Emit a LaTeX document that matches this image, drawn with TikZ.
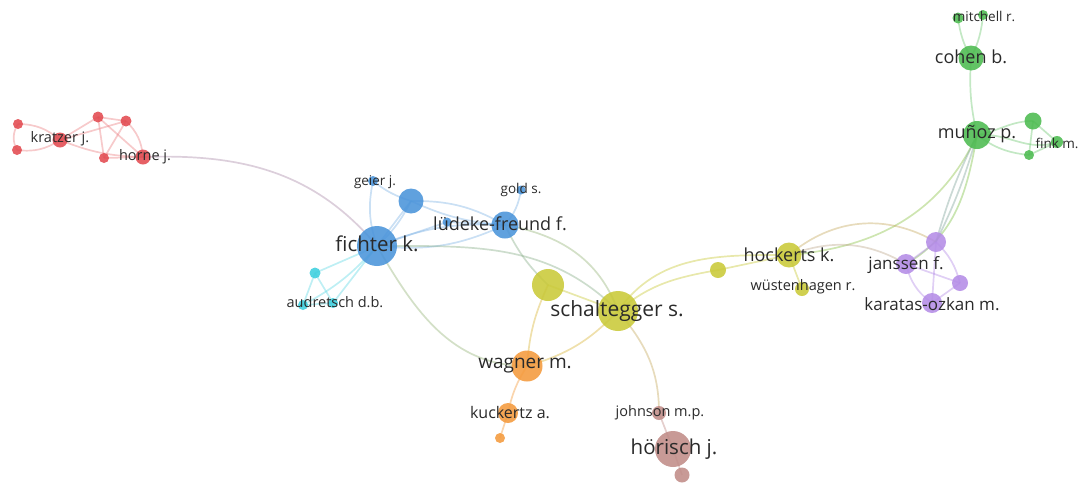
\documentclass[tikz,border=0pt]{standalone}
\usepackage{fontspec}
\setmainfont{Open Sans}
\usetikzlibrary{backgrounds}
\definecolor{cred}{HTML}{E24A50}
\definecolor{cblue}{HTML}{4A94DA}
\definecolor{ccyan}{HTML}{3CCFDE}
\definecolor{cyel}{HTML}{C9C938}
\definecolor{corange}{HTML}{F49A3C}
\definecolor{cbrown}{HTML}{C08C88}
\definecolor{cpurple}{HTML}{B48CE6}
\definecolor{cgreen}{HTML}{4CBB50}
\definecolor{txt}{HTML}{2A2A2A}
\begin{document}
\begin{tikzpicture}[x=1pt,y=-1pt,
  dot/.style={circle,inner sep=0pt,minimum size=#1,fill opacity=0.88},
  lab/.style={text=txt,inner sep=0pt,font=\fontsize{#1}{#1}\selectfont},
  ed/.style={line width=1.7pt,draw opacity=0.42}]
\useasboundingbox (0,0) rectangle (1083,483);
% ---- nodes ----
\node[dot=10,fill=cred] (r1) at (18,124) {};
\node[dot=10,fill=cred] (r2) at (17,150) {};
\node[dot=15,fill=cred] (kr) at (60,140) {};
\node[dot=11,fill=cred] (r3) at (98,117) {};
\node[dot=11,fill=cred] (r4) at (126,121) {};
\node[dot=10,fill=cred] (r5) at (104,158) {};
\node[dot=15,fill=cred] (ho) at (143,157) {};
\node[dot=40,fill=cblue] (fi) at (377,246) {};
\node[dot=10,fill=cblue] (ge) at (373,181) {};
\node[dot=25,fill=cblue] (b2) at (411,201) {};
\node[dot=9,fill=cblue] (sb) at (447,222) {};
\node[dot=27,fill=cblue] (lu) at (505,225) {};
\node[dot=9,fill=cblue] (go) at (521,190) {};
\node[dot=11,fill=ccyan] (c1) at (315,273) {};
\node[dot=10,fill=ccyan] (c2) at (303,305) {};
\node[dot=10,fill=ccyan] (c3) at (333,303) {};
\node[dot=32,fill=cyel] (y1) at (548,285) {};
\node[dot=40,fill=cyel] (sc) at (618,311) {};
\node[dot=16,fill=cyel] (y2) at (718,270) {};
\node[dot=25,fill=cyel] (hk) at (789,255) {};
\node[dot=14,fill=cyel] (wu) at (802,289) {};
\node[dot=31,fill=corange] (wa) at (527,366) {};
\node[dot=20,fill=corange] (ku) at (508,413) {};
\node[dot=10,fill=corange] (o3) at (500,438) {};
\node[dot=14,fill=cbrown] (jo) at (659,413) {};
\node[dot=36,fill=cbrown] (hr) at (673,449) {};
\node[dot=15,fill=cbrown] (b3) at (682,475) {};
\node[dot=20,fill=cpurple] (p1) at (936,242) {};
\node[dot=20,fill=cpurple] (ja) at (906,264) {};
\node[dot=16,fill=cpurple] (p3) at (960,283) {};
\node[dot=20,fill=cpurple] (ka) at (932,303) {};
\node[dot=11,fill=cgreen] (g1) at (958,18) {};
\node[dot=10,fill=cgreen] (mi) at (983,15) {};
\node[dot=25,fill=cgreen] (co) at (971,58) {};
\node[dot=28,fill=cgreen] (mu) at (977,135) {};
\node[dot=17,fill=cgreen] (g4) at (1033,121) {};
\node[dot=12,fill=cgreen] (fk) at (1057,142) {};
\node[dot=10,fill=cgreen] (g6) at (1029,155) {};
% ---- edges ----
\begin{scope}[on background layer]
\begin{scope}[ed,draw=cred!70]
\draw (r1.center) to[bend left=20] (kr.center);
\draw (r2.center) to[bend right=20] (kr.center);
\draw (r1.center) to[bend right=30] (r2.center);
\draw (kr.center) -- (r3.center);
\draw (kr.center) -- (r4.center);
\draw (kr.center) to[bend right=10] (ho.center);
\draw (r3.center) -- (r4.center);
\draw (r3.center) -- (ho.center);
\draw (r3.center) -- (r5.center);
\draw (r4.center) -- (r5.center);
\draw (r4.center) to[bend left=20] (ho.center);
\draw (r5.center) -- (ho.center);
\end{scope}
\draw[ed,draw=cred!50!cblue!80] (ho.center) to[out=2,in=130] (fi.center);
\begin{scope}[ed,draw=cblue!70]
\draw (fi.center) to[bend left=15] (ge.center);
\draw (fi.center) -- (b2.center);
\draw (fi.center) to[bend right=10] (b2.center);
\draw (ge.center) to[bend right=10] (b2.center);
\draw (b2.center) to[bend left=15] (lu.center);
\draw (b2.center) to[bend right=10] (lu.center);
\draw (fi.center) to[bend left=12] (lu.center);
\draw (fi.center) to[bend right=15] (lu.center);
\draw (fi.center) -- (sb.center);
\draw (sb.center) -- (lu.center);
\draw (lu.center) to[bend right=15] (go.center);
\end{scope}
\begin{scope}[ed,draw=ccyan!80]
\draw (fi.center) -- (c1.center);
\draw (fi.center) to[bend left=10] (c2.center);
\draw (fi.center) -- (c3.center);
\draw (c1.center) -- (c2.center);
\draw (c1.center) -- (c3.center);
\draw (c2.center) -- (c3.center);
\end{scope}
\draw[ed,draw=cblue!50!cyel] (fi.center) to[out=0,in=135] (sc.center);
\draw[ed,draw=cblue!40!cyel] (lu.center) to[out=-10,in=110] (sc.center);
\draw[ed,draw=cblue!50!cyel] (lu.center) to[bend right=10] (y1.center);
\draw[ed,draw=cblue!40!cyel] (fi.center) to[out=-60,in=180] (wa.center);
\begin{scope}[ed,draw=cyel]
\draw (y1.center) -- (sc.center);
\draw (sc.center) to[out=40,in=190] (y2.center);
\draw (y2.center) -- (hk.center);
\draw (sc.center) to[out=55,in=180] (hk.center);
\draw (hk.center) -- (wu.center);
\end{scope}
\draw[ed,draw=cyel!60!corange] (y1.center) to[bend right=10] (wa.center);
\draw[ed,draw=cyel!60!corange] (sc.center) to[bend left=15] (wa.center);
\draw[ed,draw=cyel!50!cgreen] (hk.center) to[out=5,in=-115] (mu.center);
\draw[ed,draw=cyel!50!cbrown] (hk.center) to[out=40,in=150] (p1.center);
\draw[ed,draw=cyel!50!cpurple] (hk.center) to[out=20,in=150] (ja.center);
\draw[ed,draw=cyel!50!cbrown] (sc.center) to[out=-50,in=90] (jo.center);
\draw[ed,draw=corange] (wa.center) to[bend right=10] (ku.center);
\draw[ed,draw=corange] (ku.center) -- (o3.center);
\draw[ed,draw=cbrown] (jo.center) -- (hr.center);
\draw[ed,draw=cbrown] (hr.center) -- (b3.center);
\begin{scope}[ed,draw=cgreen!80]
\draw (mu.center) to[bend left=8] (co.center);
\draw (co.center) to[bend left=10] (g1.center);
\draw (co.center) to[bend right=10] (mi.center);
\draw (mu.center) to[out=10,in=180] (g4.center);
\draw (mu.center) to[out=5,in=200] (fk.center);
\draw (mu.center) to[bend right=15] (g6.center);
\draw (g4.center) -- (fk.center);
\draw (g4.center) -- (g6.center);
\draw (g6.center) -- (fk.center);
\end{scope}
\draw[ed,draw=cgreen!50!cpurple] (mu.center) to[bend left=5] (p1.center);
\draw[ed,draw=cgreen!50!cpurple] (mu.center) to[bend right=5] (p1.center);
\draw[ed,draw=cgreen!60!cyel] (mu.center) to[out=-100,in=30] (ja.center);
\begin{scope}[ed,draw=cpurple]
\draw (p1.center) -- (ja.center);
\draw (p1.center) to[bend left=15] (p3.center);
\draw (p1.center) -- (ka.center);
\draw (ja.center) to[bend right=20] (ka.center);
\draw (ja.center) -- (p3.center);
\draw (p3.center) -- (ka.center);
\end{scope}
\end{scope}
% ---- labels ----
\node[lab=14.5] (lkr) at (60,139) {kratzer j.};
\node[lab=14.5] (lho) at (145,157) {horne j.};
\node[lab=20.5] (lfi) at (377,244) {fichter k.};
\node[lab=13.5] (lge) at (375,182) {geier j.};
\node[lab=18] (llu) at (500,224) {lüdeke-freund f.};
\node[lab=13.5] (lgo) at (521,190) {gold s.};
\node[lab=14.5] (lau) at (335,302) {audretsch d.b.};
\node[lab=21] (lsc) at (617,311) {schaltegger s.};
\node[lab=18] (lhk) at (789,255) {hockerts k.};
\node[lab=14.5] (lwu) at (803,287) {wüstenhagen r.};
\node[lab=19] (lwa) at (525,366) {wagner m.};
\node[lab=16] (lku) at (510,413) {kuckertz a.};
\node[lab=14.5] (ljo) at (660,413) {johnson m.p.};
\node[lab=20.5] (lhr) at (674,449) {hörisch j.};
\node[lab=17] (lja) at (906,265) {janssen f.};
\node[lab=17] (lka) at (932,304) {karatas-ozkan m.};
\node[lab=13.5] (lmi) at (984,16) {mitchell r.};
\node[lab=18] (lco) at (971,57) {cohen b.};
\node[lab=18] (lmu) at (977,134) {muñoz p.};
\node[lab=13.5] (lfk) at (1057,143) {fink m.};
\end{tikzpicture}
\end{document}
